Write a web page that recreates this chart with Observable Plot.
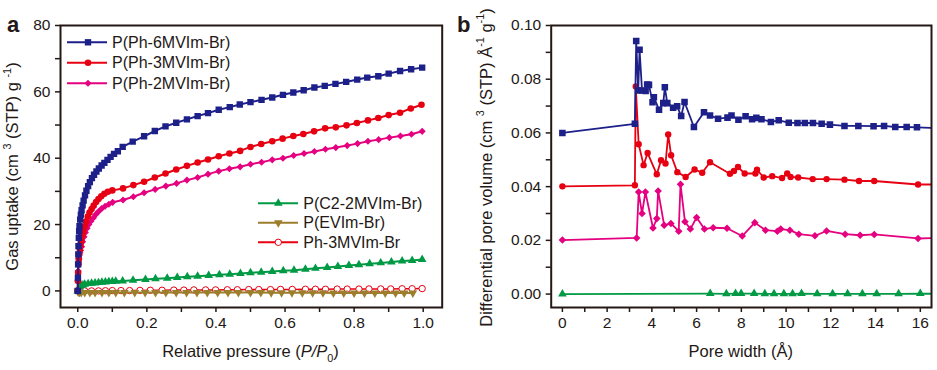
<!DOCTYPE html>
<html><head><meta charset="utf-8">
<script src="https://cdn.jsdelivr.net/npm/d3@7"></script>
<script src="https://cdn.jsdelivr.net/npm/@observablehq/plot@0.6"></script>
<style>
body{margin:0;background:#fff;}
#wrap{display:flex;width:937px;height:370px;overflow:hidden;}
#wrap svg{display:block;flex:none;}
</style></head><body><div id="wrap"></div>
<script>
// ---------- Panel a: gas uptake isotherms ----------
const seriesA = ["P(Ph-6MVIm-Br)", "P(Ph-3MVIm-Br)", "P(Ph-2MVIm-Br)", "P(C2-2MVIm-Br)", "P(EVIm-Br)", "Ph-3MVIm-Br"];

const pressure6 = [0, 0.0005, 0.001, 0.0015, 0.002, 0.003, 0.004, 0.005, 0.007, 0.009, 0.011, 0.014, 0.017, 0.021, 0.025, 0.03, 0.035, 0.041, 0.047, 0.054, 0.061, 0.069, 0.077, 0.086, 0.095, 0.105, 0.116, 0.13, 0.159, 0.192, 0.223, 0.254, 0.285, 0.316, 0.347, 0.377, 0.408, 0.44, 0.469, 0.5, 0.532, 0.563, 0.594, 0.624, 0.654, 0.685, 0.715, 0.746, 0.777, 0.809, 0.838, 0.87, 0.9, 0.933, 0.965, 0.997];
const uptake6 = [0, 4, 8, 11, 13.5, 16, 18, 19.5, 21.5, 23, 24.3, 25.8, 27.2, 28.8, 30.2, 31.6, 32.8, 34, 35, 36, 36.9, 37.8, 38.6, 39.5, 40.4, 41.3, 42.1, 43.4, 45, 46.6, 48.2, 49.6, 50.7, 51.7, 52.7, 53.6, 54.6, 55.4, 56.2, 56.9, 57.6, 58.3, 59.1, 59.8, 60.5, 61.3, 61.8, 62.4, 63, 63.7, 64.3, 64.7, 65.5, 66.3, 66.8, 67.3];

const pressure3 = [0, 0.0005, 0.001, 0.002, 0.003, 0.004, 0.006, 0.008, 0.01, 0.013, 0.016, 0.02, 0.024, 0.029, 0.034, 0.04, 0.046, 0.053, 0.06, 0.068, 0.077, 0.087, 0.1, 0.131, 0.161, 0.192, 0.223, 0.254, 0.285, 0.316, 0.347, 0.377, 0.408, 0.439, 0.47, 0.5, 0.531, 0.563, 0.593, 0.624, 0.653, 0.684, 0.716, 0.747, 0.778, 0.808, 0.84, 0.87, 0.9, 0.933, 0.964, 0.995];
const uptake3 = [0, 3, 5.5, 8, 9.5, 11, 12.5, 14, 15.3, 16.8, 18, 19.5, 21, 22.4, 23.6, 24.7, 25.7, 26.8, 27.7, 28.5, 29.3, 29.9, 30.3, 30.9, 31.9, 32.9, 34.2, 35.4, 36.6, 37.7, 38.7, 39.6, 40.6, 41.4, 42.2, 43.4, 44.3, 45.1, 45.9, 46.7, 47.3, 48.1, 49.0, 49.3, 49.9, 50.6, 51.4, 52.1, 53.0, 53.7, 55.0, 56.1];

const pressure2 = [0, 0.0005, 0.001, 0.002, 0.003, 0.004, 0.006, 0.008, 0.011, 0.014, 0.018, 0.022, 0.027, 0.032, 0.038, 0.045, 0.052, 0.06, 0.069, 0.079, 0.09, 0.101, 0.131, 0.161, 0.192, 0.224, 0.255, 0.286, 0.316, 0.347, 0.377, 0.408, 0.439, 0.47, 0.5, 0.532, 0.563, 0.594, 0.625, 0.655, 0.685, 0.717, 0.747, 0.78, 0.81, 0.84, 0.871, 0.902, 0.934, 0.966, 0.997];
const uptake2 = [0, 3, 6, 8.5, 9.8, 10.8, 11.5, 12.2, 13.3, 14.8, 16.3, 17.6, 18.9, 20, 21, 22, 23, 23.9, 24.8, 25.5, 26.1, 26.7, 27.4, 28.4, 29.6, 30.6, 31.6, 32.4, 33.4, 34.2, 35.2, 36.1, 36.8, 37.4, 38.2, 38.8, 39.5, 40, 40.8, 41.4, 42, 42.7, 43.2, 43.8, 44.4, 45.1, 45.6, 46.2, 46.7, 47.2, 48.1];

const pressureC2 = [0, 0.005, 0.01, 0.015, 0.02, 0.03, 0.04, 0.05, 0.06, 0.07, 0.08, 0.09, 0.1, 0.11, 0.13, 0.16, 0.196, 0.225, 0.259, 0.288, 0.317, 0.347, 0.379, 0.41, 0.44, 0.471, 0.5, 0.531, 0.563, 0.595, 0.626, 0.659, 0.688, 0.722, 0.753, 0.785, 0.814, 0.845, 0.877, 0.908, 0.939, 0.968, 0.997];
const uptakeC2 = [0, 1.2, 1.6, 1.8, 2.0, 2.2, 2.3, 2.4, 2.5, 2.6, 2.7, 2.8, 2.85, 2.9, 3.0, 3.2, 3.45, 3.65, 3.85, 4.05, 4.25, 4.45, 4.65, 4.85, 5.05, 5.25, 5.45, 5.65, 5.85, 6.05, 6.25, 6.55, 6.8, 7.05, 7.35, 7.65, 7.9, 8.2, 8.45, 8.7, 9.0, 9.2, 9.45];

const pressureEV = [0, 0.002, 0.005, 0.01, 0.02, 0.035, 0.05, 0.07, 0.09, 0.11, 0.135, 0.165, 0.195, 0.225, 0.255, 0.285, 0.315, 0.345, 0.375, 0.405, 0.435, 0.465, 0.5, 0.53, 0.56, 0.59, 0.62, 0.65, 0.68, 0.71, 0.74, 0.77, 0.8, 0.83, 0.86, 0.89, 0.92, 0.945, 0.97];
const uptakeEV = [0, -0.3, -0.4, -0.5, -0.5, -0.5, -0.5, -0.5, -0.5, -0.5, -0.5, -0.5, -0.5, -0.5, -0.5, -0.5, -0.5, -0.5, -0.5, -0.5, -0.5, -0.5, -0.5, -0.5, -0.55, -0.55, -0.55, -0.55, -0.55, -0.55, -0.6, -0.6, -0.6, -0.6, -0.6, -0.6, -0.6, -0.6, -0.6];

const pressureMono = [0, 0.01, 0.02, 0.04, 0.06, 0.08, 0.1, 0.125, 0.15, 0.18, 0.21, 0.244, 0.278, 0.307, 0.336, 0.37, 0.399, 0.433, 0.462, 0.495, 0.524, 0.558, 0.587, 0.621, 0.659, 0.688, 0.717, 0.751, 0.78, 0.814, 0.843, 0.877, 0.906, 0.939, 0.968, 0.997];
const uptakeMono = [0, 0, 0, 0, 0, 0.05, 0.1, 0.1, 0.1, 0.15, 0.2, 0.2, 0.25, 0.25, 0.3, 0.3, 0.3, 0.35, 0.35, 0.4, 0.4, 0.4, 0.45, 0.45, 0.5, 0.5, 0.5, 0.55, 0.55, 0.55, 0.6, 0.6, 0.6, 0.65, 0.65, 0.7];

const ticksAx = [0, 0.2, 0.4, 0.6, 0.8, 1.0];
const minorAx = [0.1, 0.3, 0.5, 0.7, 0.9];
const ticksAy = [0, 20, 40, 60, 80];
const minorAy = [10, 30, 50, 70];

// ---------- Panel b: pore size distribution ----------
const seriesB = ["P(Ph-6MVIm-Br)", "P(Ph-3MVIm-Br)", "P(Ph-2MVIm-Br)", "P(C2-2MVIm-Br)"];

const width6 = [0, 3.24, 3.30, 3.39, 3.45, 3.56, 3.72, 3.79, 3.87, 4.03, 4.09, 4.32, 4.51, 4.58, 4.69, 4.95, 5.13, 5.31, 5.46, 5.88, 6.33, 6.60, 6.96, 7.38, 7.56, 7.87, 8.19, 8.48, 8.67, 8.90, 9.32, 9.67, 10.12, 10.51, 10.84, 11.2, 11.59, 11.96, 12.61, 13.23, 13.91, 14.38, 14.88, 15.39, 15.85, 16.6];
const dv6 = [0.0600, 0.0634, 0.0942, 0.0758, 0.0910, 0.0758, 0.0756, 0.0780, 0.0779, 0.0714, 0.0733, 0.0686, 0.0711, 0.0770, 0.0711, 0.0694, 0.0699, 0.0663, 0.0715, 0.0622, 0.0677, 0.0665, 0.0653, 0.0657, 0.0665, 0.0649, 0.0662, 0.0651, 0.0656, 0.0651, 0.0641, 0.0647, 0.0638, 0.0637, 0.0637, 0.0637, 0.0634, 0.0631, 0.0626, 0.0626, 0.0625, 0.0626, 0.0622, 0.0622, 0.0621, 0.0618];

const width3 = [0, 3.24, 3.28, 3.41, 3.63, 3.81, 4.22, 4.41, 4.61, 4.73, 4.86, 5.14, 5.51, 5.91, 6.25, 6.60, 7.49, 7.67, 7.85, 8.15, 8.63, 8.70, 9.0, 9.38, 9.82, 10.05, 10.2, 10.54, 11.19, 11.81, 12.61, 13.26, 13.94, 15.9, 16.6];
const dv3 = [0.0401, 0.0405, 0.0773, 0.0558, 0.0480, 0.0525, 0.0446, 0.0498, 0.0486, 0.0594, 0.0517, 0.0454, 0.0436, 0.0464, 0.0452, 0.0491, 0.0448, 0.0458, 0.0473, 0.0449, 0.0449, 0.0463, 0.0434, 0.0439, 0.0432, 0.0449, 0.0436, 0.0434, 0.0428, 0.0428, 0.0426, 0.0421, 0.0421, 0.0408, 0.0408];

const width2 = [0, 3.32, 3.41, 3.56, 3.71, 4.05, 4.22, 4.28, 4.55, 4.85, 5.2, 5.28, 5.48, 5.72, 6.0, 6.35, 6.74, 7.36, 8.04, 8.60, 9.08, 9.61, 9.76, 10.17, 10.57, 11.29, 11.81, 12.64, 13.31, 13.94, 15.9, 16.6];
const dv2 = [0.0201, 0.0209, 0.0380, 0.0300, 0.0380, 0.0246, 0.0281, 0.0384, 0.0256, 0.0263, 0.0234, 0.0409, 0.0269, 0.0242, 0.0285, 0.0242, 0.0247, 0.0245, 0.0216, 0.0266, 0.0238, 0.0234, 0.0242, 0.0238, 0.0223, 0.0217, 0.0235, 0.0223, 0.0219, 0.0222, 0.0207, 0.0209];

const widthC2 = [0, 6.61, 7.33, 7.74, 7.99, 8.57, 9.05, 9.46, 9.9, 10.29, 10.69, 11.39, 12.08, 12.75, 13.41, 14.05, 15.03, 16.0, 16.6];
const dvC2 = [0, 0.0002, 0.0001, 0.0002, 0.0002, 0.0002, 0.0001, 0.0001, 0.0001, 0.0001, 0.0002, 0.0001, 0.0001, 0.0001, 0.0001, 0.0001, 0.0001, 0.0002, 0.0001];

const ticksBx = [0, 2, 4, 6, 8, 10, 12, 14, 16];
const minorBx = [1, 3, 5, 7, 9, 11, 13, 15];
const ticksBy = [0, 0.02, 0.04, 0.06, 0.08, 0.10];
const minorBy = [0.01, 0.03, 0.05, 0.07, 0.09];

// ---------- styling ----------
const FONT = "'Liberation Sans', Arial, Helvetica, sans-serif";
const INK = "#231815";
const NAVY = "#1d2088", RED = "#e60012", MAGENTA = "#e4007f", GREEN = "#009944", OLIVE = "#9c7e2c";
const triangleDown = {
  draw(ctx, size) {
    const t = Math.sqrt(size / (Math.sqrt(3) * 3));
    ctx.moveTo(0, 2 * t);
    ctx.lineTo(Math.sqrt(3) * t, -t);
    ctx.lineTo(-Math.sqrt(3) * t, -t);
    ctx.closePath();
  }
};

function rows(xs, ys) { return xs.map((x, i) => ({x, y: ys[i]})); }

function series(data, st, maxX = Infinity) {
  return [
    Plot.line(data, {x: "x", y: "y", stroke: st.color, strokeWidth: st.lw, clip: true}),
    Plot.dot(data.filter(d => d.x <= maxX), {x: "x", y: "y", symbol: st.symbol, r: st.r,
      fill: st.open ? "white" : st.color, stroke: st.open ? st.color : "none", strokeWidth: 1, clip: true})
  ];
}

function axes(xt, xm, xf, yt, ym, yf) {
  const common = {tickSize: 5, stroke: INK, strokeWidth: 1.5, fill: INK, fontSize: 15.5, label: null};
  return [
    Plot.axisX({...common, ticks: xt, tickFormat: xf, tickPadding: 4}),
    Plot.axisX({...common, ticks: xm, tickFormat: () => ""}),
    Plot.axisY({...common, ticks: yt, tickFormat: yf, tickPadding: 5}),
    Plot.axisY({...common, ticks: ym, tickFormat: () => ""})
  ];
}

function richText(g, {x, y, anchor = "middle", rotate = 0, size = 16, weight = "normal", parts}) {
  const t = g.append("text")
    .attr("transform", `translate(${x},${y}) rotate(${rotate})`)
    .attr("text-anchor", anchor).attr("font-size", size).attr("font-weight", weight)
    .attr("fill", INK).style("white-space", "pre");
  let shift = 0;
  for (const p of parts) {
    const s = typeof p === "string" ? {t: p} : p;
    const span = t.append("tspan").text(s.t);
    const target = s.sup ? -0.45 * size : s.sub ? 0.32 * size : 0;
    if (target !== shift) { span.attr("dy", target - shift); shift = target; }
    if (s.sup || s.sub) span.attr("font-size", size * 0.66);
    if (s.i) span.attr("font-style", "italic");
  }
}

function textLayer(specs) {
  return () => {
    const g = d3.create("svg:g").attr("font-family", FONT);
    specs.forEach(s => richText(g, s));
    return g.node();
  };
}

function legendLayer(items, {x0, x1, xm, xt, ys}) {
  return () => {
    const g = d3.create("svg:g").attr("font-family", FONT).attr("font-size", 16);
    items.forEach((it, i) => {
      const y = ys[i];
      g.append("line").attr("x1", x0).attr("x2", x1).attr("y1", y).attr("y2", y)
        .attr("stroke", it.color).attr("stroke-width", 2);
      g.append("path").attr("transform", `translate(${xm},${y})`)
        .attr("d", d3.symbol(it.symbol, Math.PI * it.r * it.r)())
        .attr("fill", it.open ? "white" : it.color)
        .attr("stroke", it.open ? it.color : "none").attr("stroke-width", 1);
      g.append("text").attr("x", xt).attr("y", y).attr("dy", "0.36em")
        .attr("text-anchor", "start").attr("fill", INK).text(it.label);
    });
    return g.node();
  };
}

const stA = [
  {color: NAVY, symbol: d3.symbolSquare, r: 3.6, lw: 2},
  {color: RED, symbol: d3.symbolCircle, r: 3.3, lw: 2},
  {color: MAGENTA, symbol: d3.symbolDiamond2, r: 3.2, lw: 2},
  {color: GREEN, symbol: d3.symbolTriangle, r: 3.2, lw: 2},
  {color: OLIVE, symbol: triangleDown, r: 3.2, lw: 2},
  {color: RED, symbol: d3.symbolCircle, r: 3.2, lw: 1.5, open: true}
];

const plotA = Plot.plot({
  width: 456, height: 370,
  marginLeft: 60, marginRight: 14.3, marginTop: 25, marginBottom: 63,
  x: {domain: [-0.05, 1.055]},
  y: {domain: [-5, 80]},
  style: {fontFamily: FONT, fontSize: "15.5px", color: INK, background: "white", overflow: "visible"},
  marks: [
    ...series(rows(pressureMono, uptakeMono), stA[5]),
    ...series(rows(pressureEV, uptakeEV), stA[4]),
    ...series(rows(pressureC2, uptakeC2), stA[3]),
    ...series(rows(pressure2, uptake2), stA[2]),
    ...series(rows(pressure3, uptake3), stA[1]),
    ...series(rows(pressure6, uptake6), stA[0]),
    ...axes(ticksAx, minorAx, d => d.toFixed(1), ticksAy, minorAy, d => String(d)),
    Plot.frame({stroke: INK, strokeWidth: 2}),
    legendLayer(seriesA.slice(0, 3).map((label, i) => ({label, ...stA[i]})),
      {x0: 67, x1: 107, xm: 88, xt: 112, ys: [42.3, 62.7, 83.3]}),
    legendLayer(seriesA.slice(3).map((label, i) => ({label, ...stA[i + 3]})),
      {x0: 258, x1: 298, xm: 278.3, xt: 303.3, ys: [203.3, 222.7, 242.3]}),
    textLayer([
      {x: 7, y: 31.5, anchor: "start", size: 22, weight: "bold", parts: ["a"]},
      {x: 250.5, y: 357, size: 16.5, parts: ["Relative pressure (", {t: "P", i: true}, {t: "/", i: true}, {t: "P", i: true}, {t: "0", sub: true}, ")"]},
      {x: 18.3, y: 166.5, rotate: -90, size: 16.5, parts: ["Gas uptake (cm ", {t: "3", sup: true}, " (STP) g ", {t: "-1", sup: true}, ")"]}
    ])
  ]
});

const stB = [
  {color: NAVY, symbol: d3.symbolSquare, r: 3.7, lw: 1.8},
  {color: RED, symbol: d3.symbolCircle, r: 3.2, lw: 1.8},
  {color: MAGENTA, symbol: d3.symbolDiamond2, r: 3.4, lw: 1.8},
  {color: GREEN, symbol: d3.symbolTriangle, r: 3.2, lw: 1.8}
];

const plotB = Plot.plot({
  width: 481, height: 370,
  marginLeft: 94.7, marginRight: 6, marginTop: 25, marginBottom: 63,
  x: {domain: [-0.5, 16.5]},
  y: {domain: [-0.005, 0.1]},
  style: {fontFamily: FONT, fontSize: "15.5px", color: INK, background: "white", overflow: "visible"},
  marks: [
    ...series(rows(widthC2, dvC2), stB[3], 16.2),
    ...series(rows(width2, dv2), stB[2], 16.2),
    ...series(rows(width3, dv3), stB[1], 16.2),
    ...series(rows(width6, dv6), stB[0], 16.2),
    ...axes(ticksBx, minorBx, d => String(d), ticksBy, minorBy, d => d.toFixed(2)),
    Plot.frame({stroke: INK, strokeWidth: 2}),
    textLayer([
      {x: 1, y: 31.5, anchor: "start", size: 22, weight: "bold", parts: ["b"]},
      {x: 284.8, y: 357, size: 16.5, parts: ["Pore width (Å)"]},
      {x: 35.7, y: 167.5, rotate: -90, size: 16.5, parts: ["Differential pore volume (cm ", {t: "3", sup: true}, " (STP) Å", {t: "-1", sup: true}, " g", {t: "-1", sup: true}, ")"]}
    ])
  ]
});

document.getElementById("wrap").append(plotA, plotB);
</script>
</body></html>
